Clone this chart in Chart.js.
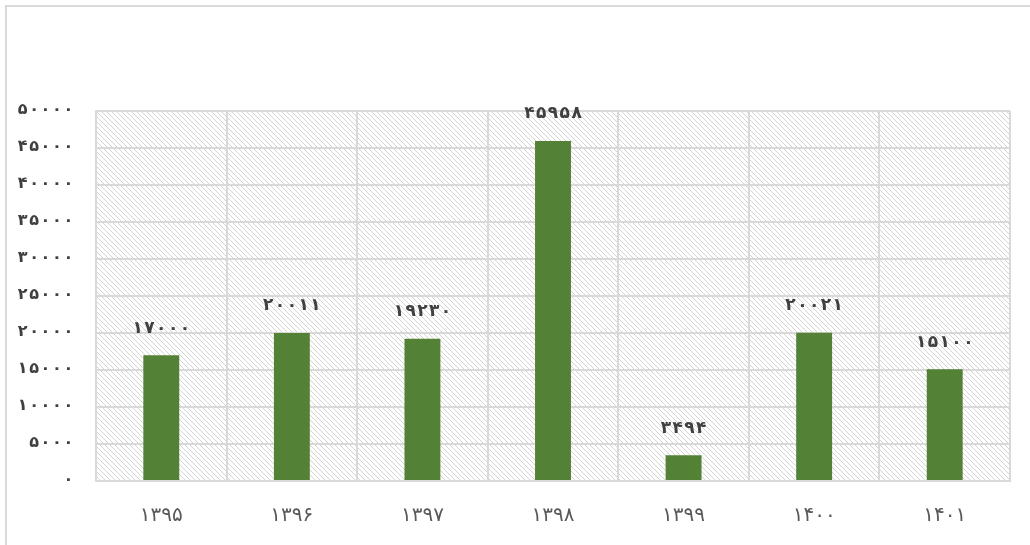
<!DOCTYPE html>
<html>
<head>
<meta charset="utf-8">
<script src="https://cdn.jsdelivr.net/npm/chart.js@4"></script>
<style>
html,body{margin:0;padding:0;background:#fff;}
#wrap{position:relative;width:1030px;height:545px;overflow:hidden;}
#frame{position:absolute;left:5px;top:5px;width:1100px;height:600px;border-left:2px solid #d9d9d9;border-top:2px solid #d9d9d9;box-sizing:border-box;}
canvas{position:absolute;left:0;top:0;}
</style>
</head>
<body>
<div id="wrap"><div id="frame"></div><canvas id="c" width="1030" height="545"></canvas></div>
<script>
const categories = ['۱۳۹۵','۱۳۹۶','۱۳۹۷','۱۳۹۸','۱۳۹۹','۱۴۰۰','۱۴۰۱'];
const values = [17000, 20011, 19230, 45958, 3494, 20021, 15100];
const yMax = 50000;
const yStep = 5000;

const faDigits = '۰۱۲۳۴۵۶۷۸۹';
function toFa(n){ return String(n).replace(/[0-9]/g, d => faDigits[+d]); }

// draw digits on a fixed pitch; align: 'right' (x = right edge) or 'center'
function drawPitched(ctx, text, x, y, pitch, align){
  const chars = Array.from(text);
  const total = pitch * chars.length;
  let left = align === 'right' ? x - total : x - total / 2;
  ctx.textAlign = 'center';
  chars.forEach((c, i) => ctx.fillText(c, left + pitch * i + pitch / 2, y));
}

function makePattern(ctx){
  const s = 5;
  const p = document.createElement('canvas');
  p.width = s; p.height = s;
  const g = p.getContext('2d');
  g.fillStyle = '#ffffff'; g.fillRect(0,0,s,s);
  g.strokeStyle = '#d4d4d4'; g.lineWidth = 1;
  g.beginPath();
  g.moveTo(-1,-1); g.lineTo(s+1,s+1);
  g.moveTo(-1,s-1); g.lineTo(1,s+1);
  g.moveTo(s-1,-1); g.lineTo(s+1,1);
  g.stroke();
  return ctx.createPattern(p,'repeat');
}

const hatchPlugin = {
  id:'hatch',
  beforeDraw(chart){
    const {ctx, chartArea:a} = chart;
    ctx.save();
    ctx.fillStyle = makePattern(ctx);
    ctx.fillRect(a.left, a.top, a.right-a.left, a.bottom-a.top);
    ctx.restore();
  }
};

const labelPlugin = {
  id:'vlabels',
  afterDraw(chart){
    const {ctx} = chart;
    const meta = chart.getDatasetMeta(0);
    ctx.save();
    ctx.fillStyle = '#404040';
    ctx.textBaseline = 'middle';
    ctx.font = 'bold 17px "DejaVu Sans"';
    meta.data.forEach((bar,i)=>{
      drawPitched(ctx, toFa(values[i]), bar.x, bar.y - 27, 11.8, 'center');
    });
    const ys = chart.scales.y;
    ctx.font = 'bold 16px "DejaVu Sans"';
    ys.ticks.forEach(t=>{
      drawPitched(ctx, toFa(t.value), 74, ys.getPixelForValue(t.value) - 1, 11.4, 'right');
    });
    ctx.restore();
  }
};

new Chart(document.getElementById('c'), {
  type:'bar',
  data:{
    labels: categories,
    datasets:[{ data: values, backgroundColor:'#538135', barPercentage:0.55, categoryPercentage:0.5 }]
  },
  options:{
    responsive:false,
    animation:false,
    layout:{ padding:{ left:0, right:20, top:111, bottom:0 } },
    plugins:{ legend:{display:false}, tooltip:{enabled:false} },
    scales:{
      x:{
        offset:true,
        grid:{ color:'#d9d9d9', lineWidth:2, offset:true, drawTicks:false },
        border:{ display:true, color:'#d9d9d9', width:2 },
        ticks:{ color:'#595959', font:{ family:'DejaVu Sans', size:20 }, padding:23 },
        afterFit(s){ s.height = 64; }
      },
      y:{
        min:0, max:yMax,
        grid:{ color:'#d9d9d9', lineWidth:2, drawTicks:false },
        border:{ display:true, color:'#d9d9d9', width:2 },
        ticks:{ stepSize:yStep, display:false },
        afterFit(s){ s.width = 96; }
      }
    }
  },
  plugins:[hatchPlugin, labelPlugin]
});
</script>
</body>
</html>
